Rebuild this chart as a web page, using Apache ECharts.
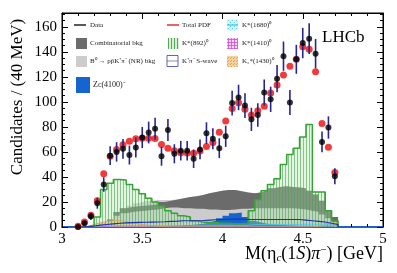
<!DOCTYPE html>
<html><head><meta charset="utf-8">
<script src="https://cdn.jsdelivr.net/npm/echarts@6/dist/echarts.min.js"></script>
<style>html,body{margin:0;padding:0;background:#fff}#c{width:397px;height:273px}</style>
</head><body><div id="c"></div>
<script>
// ---- data ----
const binCenters = [3.10,3.14,3.18,3.22,3.26,3.30,3.34,3.38,3.42,3.46,3.50,3.54,3.58,3.62,3.66,3.70,3.74,3.78,3.82,3.86,3.90,3.94,3.98,4.02,4.06,4.10,4.14,4.18,4.22,4.26,4.30,4.34,4.38,4.42,4.46,4.50,4.54,4.58,4.62,4.66,4.70];
const dataVals = [0,3,8.5,19,34,57,60,62.5,57.5,63.5,71.5,75.5,78.5,56.5,77.5,58.5,61,61,54.5,62,75,70.5,63,72.5,99,103.5,97,86,89.5,107.5,102,118.5,136.5,99.5,134,147,150.5,138.5,68,79.5,40.5];
const totalPdf = [0.5,4,9.3,21,42.5,56.5,62,65.8,68.5,70.6,71,71,70.8,66,63,61,59.3,59.2,59,60.8,64.3,67.5,75.8,84.8,94.7,99.3,94,89.5,92.8,96.5,107,113.5,121.5,128.5,134,144,142,124,82.7,63.8,43.5];
const lightEnvelope = [0,0,0,0,2,6,12,15,17,19,20.5,21,21.5,21.5,21.5,22,23,24,24.5,25.5,27,28,29,29.5,29.5,28.5,27.5,27,27.5,29,31,32,32.5,32,31.5,31,29,26,21,13,8];
const combTop = [0,0,0,0,2,6,12,15,16,16.5,17,17.5,18,20,21,22,23,24,24.5,25.5,27,28,29,29.5,29.5,28.5,27.5,27,27.5,29,31,32,32.5,32,31.5,31,29,26,21,13,8];
const nrBkg = [0,0,0,0,1,4,9,11,12,12.5,13,13.5,14,15,15.5,15.5,15,15,14.5,14.5,14,14,13.5,13.5,14,14.5,14.5,15,15,15,15,15,15,15,14.5,14,13,12,10,7,4];
const zc4100 = [0,0,0,0,0,0,0,0,0,0,0,0.3,0.5,0.6,0.8,1,1.3,1.6,2,2.5,3.5,5,7,9,11,11.5,8,5,3.5,2.5,2,1.6,1.3,1.1,1,0.9,0.8,0.7,0.6,0.5,0.4];
const kst892 = [0,0,1,8,30,35,38,37.5,34,30,26.5,23,20,17,13,11,9,8,5,4,3.5,3.5,3,3,2.5,2.5,3,13,22,29,34,38.5,50,58,63,72,82,28,28,13,5];
const kpiSwave = [0,0.3,0.8,1.5,2,2.5,3,3.3,3.5,3.7,3.8,3.9,4,4.2,4.5,4.7,5,5,5,5.2,5.5,5.8,6,6.2,6.3,6.3,6,6,6,6,6,6,6,6,6,5.5,5,4.5,4,3,2];
const kst1680 = [0,0,0.2,0.4,0.6,0.8,1,1,1,1,1,1,1,1,1,1,1,1,1,1,1.2,1.2,1.2,1.2,1.2,1.2,1.2,2,2,2,2,2,2,2,2,2.2,2.2,2.2,2.2,2,1.5];
const kst1410 = [0,0,0.2,0.3,0.4,0.5,0.5,0.5,0.5,0.5,0.5,0.5,0.5,0.5,0.5,0.5,0.5,0.5,0.5,0.5,0.5,0.5,0.5,0.5,0.5,0.5,0.5,0.5,0.5,0.5,0.5,0.5,0.5,0.5,0.5,0.6,0.7,0.8,1.2,1.5,1.5];
const k2st1430 = [0,0.5,2,3.5,4.5,5,5,4.5,3.5,2.5,1.5,1,0.6,0.3,0,0,0,0,0,0,0,0,0,0,0,0,0,0,0,0,0,0,0,0,0,0,0,0.5,1,3,3.5];
const yTicks = [0,20,40,60,80,100,120,140,160];
const xTicks = [3,3.5,4,4.5,5];
const legendLabels = ['Data','Total PDF','K*(1680)⁰','Combinatorial bkg','K*(892)⁰','K*(1410)⁰','B⁰ → pp̄K⁺π⁻ (NR) bkg','K⁺π⁻ S-wave','K₂*(1430)⁰','Zc(4100)⁻'];
const yTitle = 'Candidates / (40 MeV)';
const logoText = 'LHCb';
const BIN_HALF = 0.02;

// ---- helpers ----
function hist(vals){
  const n = binCenters.length;
  const pts = [[binCenters[0]-BIN_HALF, 0]];
  for (let i=0;i<n;i++) pts.push([binCenters[i]-BIN_HALF, vals[i]]);
  pts.push([binCenters[n-1]+BIN_HALF, 0]);
  return pts;
}
function pattern(w,h,draw){const c=document.createElement('canvas');c.width=w;c.height=h;const g=c.getContext('2d');draw(g);return {image:c,repeat:'repeat'};}
const greenPat = pattern(3,4,g=>{g.fillStyle='rgba(175,225,175,0.35)';g.fillRect(0,0,3,4);g.fillStyle='rgba(70,165,70,0.6)';g.fillRect(0,0,1,4);});
const greenPatL = pattern(3,4,g=>{g.fillStyle='rgba(175,225,175,0.5)';g.fillRect(0,0,3,4);g.fillStyle='rgba(70,165,70,0.9)';g.fillRect(0,0,1,4);});
const cyanPat = pattern(4,4,g=>{g.fillStyle='rgba(200,240,250,0.8)';g.fillRect(0,0,4,4);g.fillStyle='rgba(60,190,220,0.8)';g.fillRect(0,0,1,1);g.fillRect(2,2,1,1);});
const magPat = pattern(3,3,g=>{g.fillStyle='rgba(245,200,245,0.8)';g.fillRect(0,0,3,3);g.fillStyle='rgba(210,80,210,0.8)';g.fillRect(0,0,3,1);g.fillRect(0,0,1,3);});
const orPat = pattern(3,3,g=>{g.fillStyle='rgba(240,205,150,0.9)';g.fillRect(0,0,3,3);g.fillStyle='rgba(220,150,70,0.8)';g.fillRect(0,0,1,1);g.fillRect(2,1,1,1);});

function area(name, vals, fill, stroke, lw){
  return {type:'line', name, step:'end', symbol:'none', data:hist(vals), silent:true,
    lineStyle:{color:stroke||fill, width: lw===undefined?0:lw}, areaStyle:{color:fill, opacity:1}};
}

const FONT = 'Liberation Serif';
const legendFont = '7px "Liberation Serif"';
const graphic = [];
function lt(x,y,t){graphic.push({type:'text',x,y,style:{text:t,font:legendFont,fill:'#222',verticalAlign:'middle',textVerticalAlign:'middle'}});}
// col 1
graphic.push({type:'line',shape:{x1:74,y1:25,x2:86,y2:25},style:{stroke:'#000',lineWidth:1.3}});
lt(90,25,legendLabels[0]);
graphic.push({type:'rect',shape:{x:76,y:38,width:11,height:11},style:{fill:'#6b6b6b'}});
lt(90,43.5,legendLabels[3]);
graphic.push({type:'rect',shape:{x:76,y:56,width:11,height:11},style:{fill:'#cccccc'}});
lt(90,61.5,legendLabels[6]);
graphic.push({type:'rect',shape:{x:76,y:77,width:14,height:16},style:{fill:'#1565d0'}});
graphic.push({type:'text',x:93,y:85,style:{text:legendLabels[9],font:'8px "Liberation Serif"',fill:'#222',verticalAlign:'middle',textVerticalAlign:'middle'}});
// col 2
graphic.push({type:'line',shape:{x1:167,y1:25,x2:179,y2:25},style:{stroke:'#e01010',lineWidth:1.3}});
lt(182,25,legendLabels[1]);
graphic.push({type:'rect',shape:{x:168,y:38,width:11,height:11},style:{fill:greenPatL}});
lt(182,43.5,legendLabels[4]);
graphic.push({type:'rect',shape:{x:167,y:55.5,width:11,height:11},style:{fill:'#fff',stroke:'#3540a8',lineWidth:0.8}});
graphic.push({type:'line',shape:{x1:167,y1:61,x2:178,y2:61},style:{stroke:'#3540a8',lineWidth:0.6}});
lt(182,61.5,legendLabels[7]);
// col 3
graphic.push({type:'rect',shape:{x:227,y:19.5,width:11,height:11},style:{fill:cyanPat}});
graphic.push({type:'line',shape:{x1:227,y1:25,x2:238,y2:25},style:{stroke:'#30b8e0',lineWidth:1}});
lt(242,25,legendLabels[2]);
graphic.push({type:'rect',shape:{x:227,y:38,width:11,height:11},style:{fill:magPat}});
lt(242,43.5,legendLabels[5]);
graphic.push({type:'rect',shape:{x:227,y:56,width:11,height:11},style:{fill:orPat}});
lt(242,61.5,legendLabels[8]);
// logo & titles
graphic.push({type:'text',x:322,y:38,style:{text:logoText,font:'17px "Liberation Serif"',fill:'#000',verticalAlign:'middle',textVerticalAlign:'middle'}});
graphic.push({type:'text',x:18,y:97,rotation:Math.PI/2,style:{text:yTitle,font:'17px "Liberation Serif"',fill:'#000',align:'center',textAlign:'center',verticalAlign:'middle',textVerticalAlign:'middle'}});
graphic.push({type:'text',x:383,y:254,style:{text:'M(η{s|c}(1{i|S}){i|π}{p|−}) [GeV]',font:'18px "Liberation Serif"',fill:'#000',align:'right',textAlign:'right',verticalAlign:'middle',textVerticalAlign:'middle',
  rich:{s:{fontSize:11,fontFamily:FONT,fontStyle:'italic',verticalAlign:'bottom',padding:[8,0,0,0]},i:{fontSize:18,fontFamily:FONT,fontStyle:'italic'},p:{fontSize:11,fontFamily:FONT,verticalAlign:'top',padding:[0,0,8,0]}}}});

const xMin = xTicks[0], xMax = xTicks[xTicks.length-1];
const yMin = yTicks[0], yMax = 171;
const tickCommon = {inside:true,length:6,lineStyle:{color:'#000',width:1}};
const minorCommon = {show:true,length:3,lineStyle:{color:'#000',width:1}};

const option = {
  animation:false,
  backgroundColor:'#fff',
  grid:{left:62,right:14,top:13,bottom:46,show:true,borderColor:'#000',borderWidth:1,backgroundColor:'transparent'},
  xAxis:[
    {type:'value',min:xMin,max:xMax,interval:0.5,position:'bottom',
     axisLine:{show:true,onZero:false,lineStyle:{color:'#1f5fcf',width:2}},
     axisTick:tickCommon,minorTick:Object.assign({splitNumber:5},minorCommon),splitLine:{show:false},
     axisLabel:{fontFamily:FONT,fontSize:15,color:'#000',margin:5}},
    {type:'value',min:xMin,max:xMax,interval:0.5,position:'top',
     axisLine:{show:true,onZero:false,lineStyle:{color:'#000',width:1}},
     axisTick:tickCommon,minorTick:Object.assign({splitNumber:5},minorCommon),splitLine:{show:false},axisLabel:{show:false}}
  ],
  yAxis:[
    {type:'value',min:yMin,max:yMax,interval:20,position:'left',
     axisLine:{show:true,onZero:false,lineStyle:{color:'#000',width:1}},
     axisTick:tickCommon,minorTick:Object.assign({splitNumber:4},minorCommon),splitLine:{show:false},
     axisLabel:{fontFamily:FONT,fontSize:15,color:'#000',margin:5,formatter:v=>yTicks.indexOf(v)>=0?String(v):''}},
    {type:'value',min:yMin,max:yMax,interval:20,position:'right',
     axisLine:{show:true,onZero:false,lineStyle:{color:'#000',width:1}},
     axisTick:tickCommon,minorTick:Object.assign({splitNumber:4},minorCommon),splitLine:{show:false},axisLabel:{show:false}}
  ],
  graphic:graphic,
  series:[
    area('NR envelope', lightEnvelope, '#cccccc'),
    area('Combinatorial bkg', combTop, '#6b6b6b'),
    area('NR bkg', nrBkg, '#cccccc'),
    area('K*(1680)', kst1680, cyanPat, '#40c8e8', 0.8),
    area('K*(1410)', kst1410, magPat, '#d060d0', 0.6),
    area('K2*(1430)', k2st1430, orPat, '#e0a050', 0.8),
    area('Zc(4100)', zc4100, '#1565d0'),
    area('K*(892)', kst892, greenPat, '#36a336', 1.5),
    {type:'line',name:'S-wave',step:'end',symbol:'none',data:hist(kpiSwave),lineStyle:{color:'#2030b0',width:1.2},silent:true},
    {type:'scatter',name:'Total PDF',data:binCenters.map((x,i)=>[x,totalPdf[i]]),symbol:'circle',symbolSize:7,itemStyle:{color:'#ee0a0a'},z:5},
    {type:'custom',name:'errors',z:6,data:binCenters.map((x,i)=>[x,dataVals[i],Math.sqrt(dataVals[i])]),
     renderItem:function(params,api){
       const x=api.value(0),y=api.value(1),e=api.value(2);
       const p1=api.coord([x,y-e]),p2=api.coord([x,y+e]);
       return {type:'line',shape:{x1:p1[0],y1:p1[1],x2:p2[0],y2:p2[1]},style:{stroke:'#26268c',lineWidth:1.6}};
     }},
    {type:'scatter',name:'Data',data:binCenters.map((x,i)=>[x,dataVals[i]]),symbol:'circle',symbolSize:6,itemStyle:{color:'#000'},z:7}
  ]
};
const chart = echarts.init(document.getElementById('c'),null,{renderer:'canvas'});
chart.setOption(option);
</script></body></html>
